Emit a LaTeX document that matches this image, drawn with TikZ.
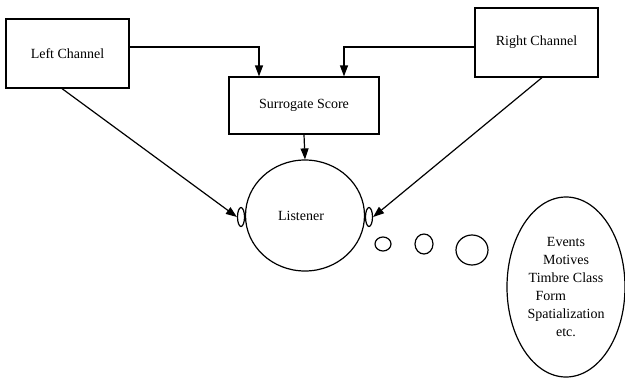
\documentclass[tikz,border=0pt]{standalone}
\usepackage{fontspec}
\setmainfont{Liberation Serif}
\usetikzlibrary{shapes.geometric, arrows.meta}

\tikzset{
  box/.style={draw, line width=1.2pt, rectangle, inner sep=0pt},
  blob/.style={draw, line width=1.2pt, ellipse, inner sep=0pt},
  arrow/.style={line width=1.2pt, -{Triangle[length=11pt,width=8pt]}}
}

\begin{document}
\begin{tikzpicture}[x=1pt, y=-1pt, font=\fontsize{14}{18}\selectfont]
        \useasboundingbox (0, 0) rectangle (625, 381);
        % channels and score
        \node [box, minimum width=123pt, minimum height=69pt] (leftch) at (67.5, 53.5) {Left Channel};
        \node [box, minimum width=123pt, minimum height=69pt] (rightch) at (536.5, 42.5) {Right Channel};
        \node [box, minimum width=150pt, minimum height=57pt] (score) at (304, 105.5) {Surrogate Score};
        % listener with ears
        \node [blob, minimum width=119pt, minimum height=111pt] (listener) at (305, 215.5) {Listener\hspace*{8pt}};
        \node [blob, minimum width=7pt, minimum height=19pt] (leftear) at (241, 217) {};
        \node [blob, minimum width=7pt, minimum height=19pt] (rightear) at (369, 217) {};
        % thought bubbles
        \node [blob, minimum width=16pt, minimum height=14pt] (bubA) at (383, 244) {};
        \node [blob, minimum width=18pt, minimum height=20pt] (bubB) at (424, 244) {};
        \node [blob, minimum width=32pt, minimum height=30pt] (bubC) at (472, 250) {};
        \node [blob, minimum width=118pt, minimum height=180pt, align=center] (thought) at (566, 287)
              {Events\\Motives\\Timbre Class\\Form\phantom{Form}\\Spatialization\\etc.};
        % connectors
        \draw [arrow] ([yshift=6.5pt]leftch.east) -| ([xshift=-45pt]score.north);
        \draw [arrow] ([yshift=-4.5pt]rightch.west) -| ([xshift=40pt]score.north);
        \draw [arrow] (score.south) -- (listener.north);
        \draw [arrow] ([xshift=-5.5pt]leftch.south) -- (leftear.west);
        \draw [arrow] ([xshift=5.5pt]rightch.south) -- (rightear.east);
    \end{tikzpicture}
\end{document}
